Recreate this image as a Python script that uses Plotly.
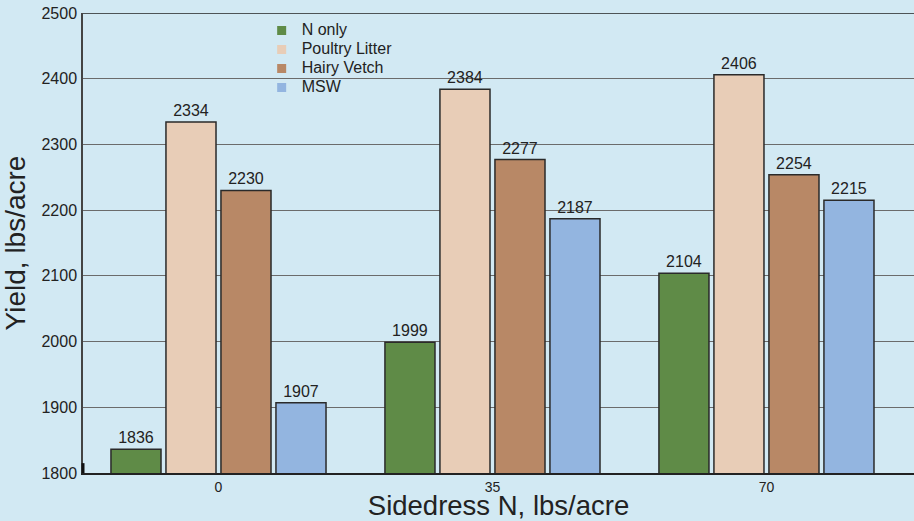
import plotly.graph_objects as go

categories = ["0", "35", "70"]
n_only = [1836, 1999, 2104]
poultry_litter = [2334, 2384, 2406]
hairy_vetch = [2230, 2277, 2254]
msw = [1907, 2187, 2215]

series = [
    ("N only", n_only, "#5f8b47"),
    ("Poultry Litter", poultry_litter, "#e8cdb7"),
    ("Hairy Vetch", hairy_vetch, "#b88866"),
    ("MSW", msw, "#93b5e0"),
]

fig = go.Figure()
for name, vals, color in series:
    fig.add_trace(go.Bar(
        name=name, x=categories, y=vals, showlegend=False,
        marker=dict(color=color, line=dict(color="#2a2a2a", width=1.5)),
        text=[str(v) for v in vals], textposition="outside",
        textfont=dict(size=16, color="#222"), cliponaxis=False,
    ))
# legend entries (square swatches)
for name, vals, color in series:
    fig.add_trace(go.Scatter(
        name='<span style="font-size:16px">%s</span>' % name,
        x=[None], y=[None], mode="markers", showlegend=True,
        marker=dict(symbol="square", size=9, color=color, line=dict(width=0)),
    ))

fig.update_layout(
    width=914, height=521,
    paper_bgcolor="#d2e9f3", plot_bgcolor="#d2e9f3",
    font=dict(family="Liberation Sans, Arial, sans-serif", color="#222"),
    margin=dict(l=83, r=0, t=13, b=48),
    barmode="group", bargap=0.197, bargroupgap=0.09,
    showlegend=True,
    legend=dict(x=0.215, y=0.9935, xanchor="left", yanchor="top",
                bgcolor="rgba(0,0,0,0)", font=dict(size=12, color="#222"),
                itemwidth=30, tracegroupgap=0),
    xaxis=dict(range=[-0.4945, 2.5385], showline=True, linecolor="#222", linewidth=2,
               ticks="", tickfont=dict(size=14, color="#222"),
               title=dict(text="Sidedress N, lbs/acre", font=dict(size=27.5, color="#222"), standoff=7)),
    yaxis=dict(range=[1800, 2500], dtick=100, showgrid=True, gridcolor="#6b6b6b", gridwidth=1,
               showline=True, linecolor="#444", linewidth=1.5, zeroline=False,
               ticks="", tickfont=dict(size=16, color="#222"), ticklabelstandoff=1,
               title=dict(text="Yield, lbs/acre", font=dict(size=28, color="#222"), standoff=20)),
)
fig.add_shape(type="line", xref="paper", yref="y", x0=0, x1=1, y0=2500, y1=2500,
              line=dict(color="#222", width=1.5))
fig.add_shape(type="line", xref="paper", yref="y", x0=0, x1=0, y0=1800, y1=1815,
              line=dict(color="#111", width=3))
fig.write_html("out.html", post_script="document.body.style.margin='0';",
               config={"displayModeBar": False})
